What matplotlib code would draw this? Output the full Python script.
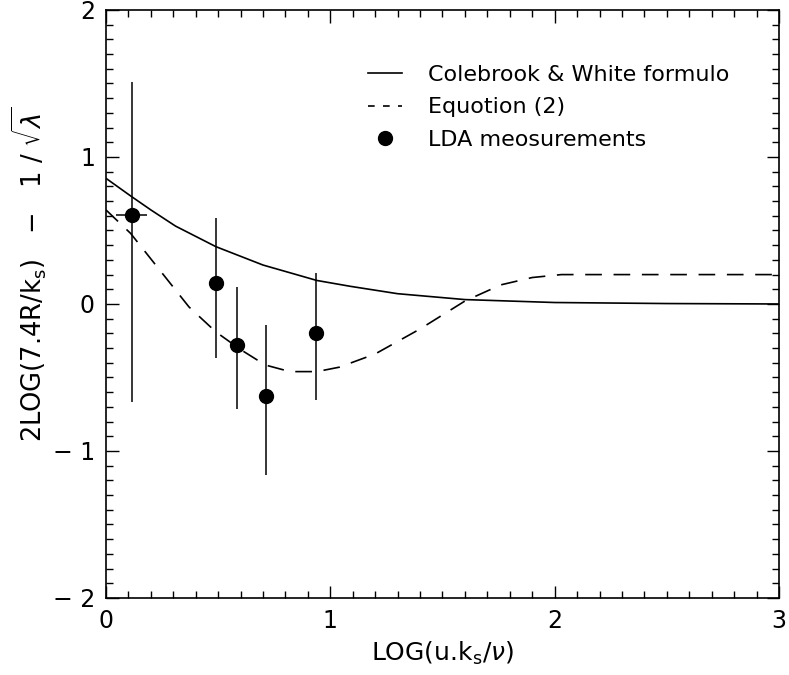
import matplotlib
matplotlib.use("Agg")
import matplotlib.pyplot as plt
from matplotlib.ticker import MultipleLocator
from matplotlib.lines import Line2D

# Colebrook & White curve
cw_x = [0.0, 0.11, 0.2, 0.31, 0.49, 0.7, 0.94, 1.09, 1.3, 1.6, 2.0, 2.5, 3.0]
cw_y = [0.855, 0.735, 0.64, 0.53, 0.39, 0.265, 0.16, 0.12, 0.07, 0.03, 0.01, 0.003, 0.0]

# Equation (2) curve
eq_x = [0.0, 0.11, 0.24, 0.37, 0.49, 0.6, 0.71, 0.82, 0.94, 1.04, 1.2, 1.4, 1.6, 1.76, 1.9, 2.03, 2.5, 3.0]
eq_y = [0.64, 0.48, 0.23, -0.02, -0.19, -0.31, -0.415, -0.46, -0.46, -0.43, -0.34, -0.17, 0.02, 0.13, 0.18, 0.2, 0.2, 0.2]

# LDA measurements with error bars
lda_x = [0.115, 0.49, 0.583, 0.712, 0.936]
lda_y = [0.605, 0.14, -0.28, -0.625, -0.195]
lda_lo = [-0.665, -0.37, -0.716, -1.163, -0.65]
lda_hi = [1.51, 0.583, 0.118, -0.143, 0.213]
lda_xerr = [0.07, 0, 0, 0, 0]

fig = plt.figure(figsize=(7.89, 6.75), dpi=100)
ax = fig.add_axes([0.1343, 0.1141, 0.853, 0.8711])

ax.plot(cw_x, cw_y, "k-", lw=1.2)
ax.plot(eq_x, eq_y, "k", lw=1.2, dashes=(10, 7))

yerr = [[y - lo for y, lo in zip(lda_y, lda_lo)], [hi - y for y, hi in zip(lda_y, lda_hi)]]
ax.errorbar(lda_x, lda_y, yerr=yerr, xerr=lda_xerr, fmt="o", color="k",
            ms=10, elinewidth=1.1, capsize=0)

ax.set_xlim(0, 3)
ax.set_ylim(-2, 2)
ax.xaxis.set_major_locator(MultipleLocator(1))
ax.xaxis.set_minor_locator(MultipleLocator(0.1))
ax.yaxis.set_major_locator(MultipleLocator(1))
ax.yaxis.set_minor_locator(MultipleLocator(0.1))
ax.tick_params(which="both", direction="in", top=True, right=True, width=1)
ax.tick_params(which="major", length=9, labelsize=17, pad=8)
ax.tick_params(which="minor", length=5)
ax.set_yticks([-2, -1, 0, 1, 2])
ax.set_yticklabels(["\u2212 2", "\u2212 1", "0", "1", "2"])
for s in ax.spines.values():
    s.set_linewidth(1.2)

ax.set_xlabel(r"LOG(u.k$_\mathrm{s}$/$\nu$)", fontsize=18, labelpad=5)
ax.set_ylabel(r"2LOG(7.4R/k$_\mathrm{s}$)   $-$   1 / $\sqrt{\lambda}$", fontsize=18.5)
ax.yaxis.set_label_coords(-0.085, 0.55)

handles = [
    Line2D([], [], color="k", lw=1.2),
    Line2D([], [], color="k", lw=1.2, dashes=(4, 5)),
    Line2D([], [], color="k", marker="o", ls="none", ms=10),
]
labels = ["Colebrook & White formulo", "Equotion (2)", "LDA meosurements"]
ax.legend(handles, labels, loc="upper left", bbox_to_anchor=(0.36, 0.94),
          frameon=False, fontsize=16, handlelength=1.5, handletextpad=1.2,
          labelspacing=0.55)

fig.savefig("out.png", dpi=100)
